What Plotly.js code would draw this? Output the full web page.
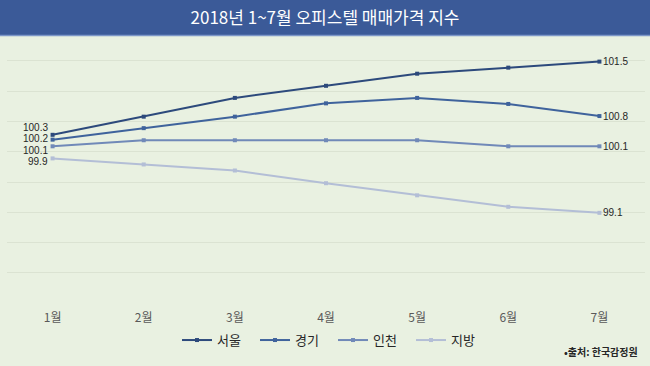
<!DOCTYPE html>
<html>
<head>
<meta charset="utf-8">
<script src="https://cdn.plot.ly/plotly-3.0.1.min.js"></script>
<style>html,body{margin:0;padding:0;background:#e9f1e1;}</style>
</head>
<body>
<div id="chart" style="width:650px;height:366px;"></div>
<script>
const months = ['1월','2월','3월','4월','5월','6월','7월'];
const seriesNames = ['서울','경기','인천','지방'];
const seoul = [100.28, 100.58, 100.89, 101.09, 101.29, 101.39, 101.49];
const gyeonggi = [100.20, 100.39, 100.58, 100.80, 100.89, 100.79, 100.59];
const incheon = [100.09, 100.19, 100.19, 100.19, 100.19, 100.09, 100.09];
const jibang = [99.89, 99.79, 99.69, 99.48, 99.28, 99.09, 98.99];
const startLabels = ['100.3','100.2','100.1','99.9'];
const endLabels = ['101.5','100.8','100.1','99.1'];
const colors = ['#2d4a7c','#3f639c','#7089b8','#b3bed6'];
const startShift = [7.2, 0.8, -4.2, -3.4];

const allSeries = [seoul, gyeonggi, incheon, jibang];
const font = 'Noto Sans CJK KR, Noto Sans, sans-serif';
const numFont = 'Liberation Sans, Arial, sans-serif';

const traces = allSeries.map((vals, i) => ({
  type: 'scatter', mode: 'lines+markers', name: seriesNames[i],
  x: months, y: vals,
  line: {color: colors[i], width: 2},
  marker: {color: colors[i], size: 4, symbol: 'square'},
  hoverinfo: 'skip'
}));

const annotations = [];
allSeries.forEach((vals, i) => {
  annotations.push({x: months[0], y: vals[0], xref: 'x', yref: 'y', text: startLabels[i],
    showarrow: false, xanchor: 'right', yanchor: 'middle', xshift: -4, yshift: startShift[i], borderpad: 0,
    font: {family: numFont, size: 10, color: '#262626'}});
  annotations.push({x: months[months.length-1], y: vals[vals.length-1], xref: 'x', yref: 'y', text: endLabels[i],
    showarrow: false, xanchor: 'left', yanchor: 'middle', xshift: 3, borderpad: 0,
    font: {family: numFont, size: 10, color: '#262626'}});
});
annotations.push({x: 0.992, y: -0.186, xref: 'paper', yref: 'paper', text: '<b>•출처: 한국감정원</b>',
  showarrow: false, xanchor: 'right', yanchor: 'middle', font: {family: font, size: 10, color: '#262626'}});

const layout = {
  width: 650, height: 366,
  margin: {l: 7, r: 5, t: 40, b: 63, pad: 0},
  paper_bgcolor: '#e9f1e1', plot_bgcolor: '#e9f1e1',
  font: {family: font, color: '#404040'},
  title: {text: '2018년 1~7월 오피스텔 매매가격 지수', x: 0.5, xanchor: 'center', xref: 'container',
    y: 0.952, yanchor: 'middle', yref: 'container', font: {family: font, size: 17, color: '#ffffff'}},
  shapes: [
    {type: 'rect', xref: 'paper', yref: 'paper', x0: -0.05, x1: 1.05, y0: 1 + 5/263, y1: 1 + 40/263,
      fillcolor: '#3b5a98', line: {width: 0}, layer: 'below'},
    {type: 'line', xref: 'paper', yref: 'paper', x0: -0.05, x1: 1.05, y0: 1 + 4.5/263, y1: 1 + 4.5/263,
      line: {color: '#7d97c8', width: 1.5}}
  ],
  xaxis: {type: 'category', range: [-0.5, 6.5], showgrid: false, zeroline: false, showline: false,
    ticks: '', ticklabelstandoff: 6, tickfont: {family: font, size: 12, color: '#595959'}, fixedrange: true},
  yaxis: {range: [97.5, 101.847], dtick: 0.5, tick0: 97.5, showticklabels: false, showgrid: true,
    gridcolor: '#dbe3d2', gridwidth: 1, zeroline: false, showline: false, ticks: '', fixedrange: true},
  showlegend: true,
  legend: {orientation: 'h', x: 0.511, xanchor: 'center', y: -0.141, yanchor: 'middle',
    bgcolor: 'rgba(0,0,0,0)', font: {family: font, size: 13, color: '#262626'},
    itemwidth: 30, entrywidth: 33, tracegroupgap: 0},
  annotations: annotations
};

Plotly.newPlot('chart', traces, layout, {displayModeBar: false, staticPlot: true});
</script>
</body>
</html>
